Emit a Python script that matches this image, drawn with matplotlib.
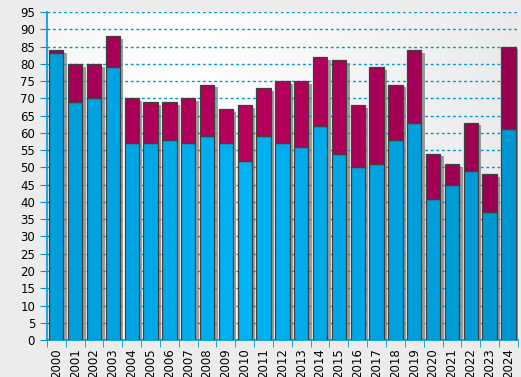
import numpy as np
import matplotlib.pyplot as plt
import matplotlib.patheffects as pe

years = [str(y) for y in range(2000, 2025)]
lower = [83, 69, 70, 79, 57, 57, 58, 57, 59, 57, 52, 59, 57, 56, 62, 54, 50, 51, 58, 63, 41, 45, 49, 37, 61]
total = [84, 80, 80, 88, 70, 69, 69, 70, 74, 67, 68, 73, 75, 75, 82, 81, 68, 79, 74, 84, 54, 51, 63, 48, 85]
upper = [t - b for t, b in zip(total, lower)]

fig = plt.figure(figsize=(5.21, 3.77), dpi=100, facecolor='#ececec')
ax = fig.add_axes([0.090, 0.098, 0.904, 0.870])

# plot area gradient (white in the middle-left, grey at the edges)
grad = np.linspace(0, 1, 256)
shade = 1 - 0.08 * np.abs(grad - 0.3) / 0.7
img = np.dstack([shade, shade, shade])
ax.imshow(img, extent=[0, 1, 0, 1], transform=ax.transAxes, aspect='auto', zorder=0)

x = np.arange(len(years))
w = 0.76

# shadows first
ax.bar(x, total, w, color='none', zorder=2,
       path_effects=[pe.SimplePatchShadow(offset=(2.5, -2), shadow_rgbFace='#777777', alpha=0.7)])

# per-bar colours, slightly darker towards the edges
t = np.abs(x - 10) / 14.0
blue = [(0.0, 0.70 - 0.11 * v, 0.95 - 0.13 * v) for v in t]
red = [(0.72 - 0.12 * v, 0.0, 0.36 - 0.04 * v) for v in t]

ax.bar(x, lower, w, color=blue, edgecolor='#404040', linewidth=0.9, zorder=3)
ax.bar(x, upper, w, bottom=lower, color=red, edgecolor='#404040', linewidth=0.9, zorder=3)

ax.set_xlim(-0.5, len(years) - 0.5)
ax.set_ylim(0, 95)
ax.set_yticks(range(0, 96, 5))
ax.set_xticks(x)
ax.set_xticklabels(years, rotation=90)
ax.set_xticks(np.arange(-0.5, len(years), 1), minor=True)

ax.yaxis.grid(True, color='#0096d6', linestyle=(0, (2, 2)), linewidth=1)
ax.set_axisbelow(True)

for s in ['top', 'right']:
    ax.spines[s].set_visible(False)
for s in ['left', 'bottom']:
    ax.spines[s].set_color('#0096d6')
    ax.spines[s].set_linewidth(1.2)

ax.tick_params(axis='y', colors='#0096d6', labelcolor='black', length=5, labelsize=8.5)
ax.tick_params(axis='x', which='major', length=0, labelsize=8.5, pad=6)
ax.tick_params(axis='x', which='minor', colors='#0096d6', length=5)

plt.savefig('out.png', dpi=100, facecolor=fig.get_facecolor())
